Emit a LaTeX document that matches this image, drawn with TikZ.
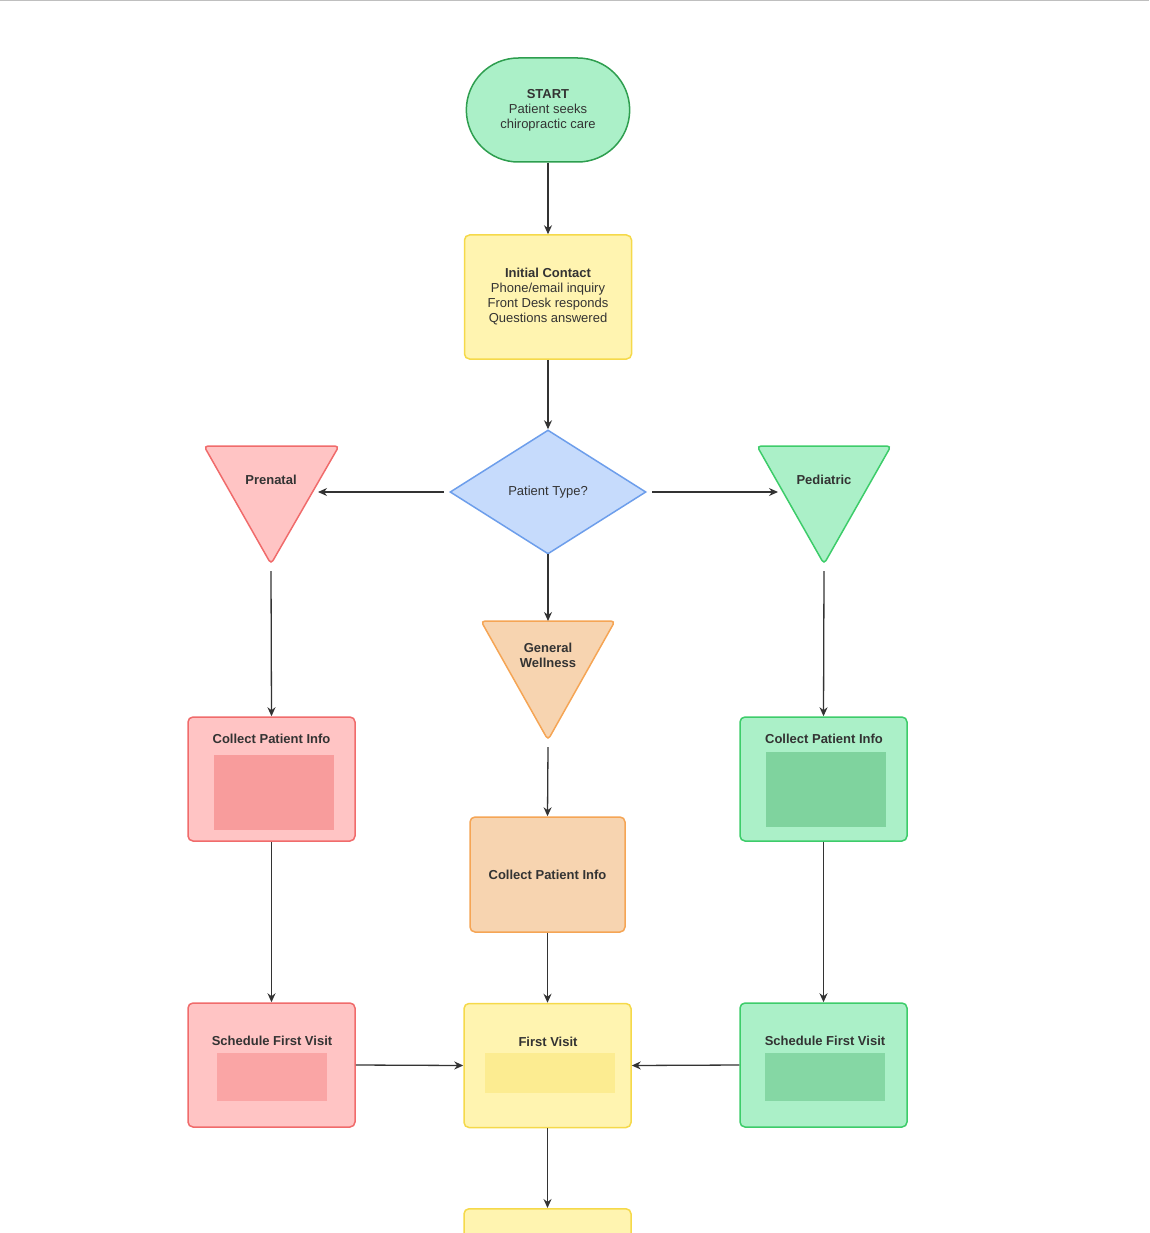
\documentclass[tikz,border=0pt]{standalone}
\usepackage{fontspec}
\setmainfont{Liberation Sans}
\usetikzlibrary{shapes.geometric,shapes.misc,arrows.meta}
\definecolor{gfill}{HTML}{ABF0C8}\definecolor{gdraw}{HTML}{2E9E4F}
\definecolor{g2draw}{HTML}{3DCC6A}
\definecolor{yfill}{HTML}{FFF4B0}\definecolor{ydraw}{HTML}{F5D94A}
\definecolor{bfill}{HTML}{C6DBFC}\definecolor{bdraw}{HTML}{6D9EEB}
\definecolor{rfill}{HTML}{FFC4C4}\definecolor{rdraw}{HTML}{F06B6B}
\definecolor{ofill}{HTML}{F7D4B0}\definecolor{odraw}{HTML}{F5A555}
\definecolor{ink}{HTML}{333333}
\tikzset{
 box/.style={draw,line width=1.5pt,rounded corners=5pt,minimum width=167pt,minimum height=124pt,align=center,font=\fontsize{13}{15}\selectfont,text=ink},
 tri/.style={line width=1.5pt,rounded corners=4pt},
 arr/.style={draw=ink,line width=1.3pt,-{Stealth[length=9pt,width=8pt]}},
 ttl/.style={font=\fontsize{13}{15}\selectfont\bfseries,text=ink,align=center},
 blur/.style={inner sep=0pt,minimum width=120pt,minimum height=75pt}
}
\begin{document}
\begin{tikzpicture}[x=1pt,y=-1pt]
\useasboundingbox (0,0) rectangle (1149,1233);
\clip (0,0) rectangle (1149,1233);
\draw[gray!50] (0,0.5) -- (1149,0.5);
% start
\node[draw=gdraw,fill=gfill,line width=1.5pt,rounded rectangle,minimum width=170pt,minimum height=104pt,align=center,text=ink,font=\fontsize{13}{15}\selectfont] (start) at (548,110) {\textbf{START}\\Patient seeks\\chiropractic care};
\node[box,draw=ydraw,fill=yfill] (ic) at (548,297) {\textbf{Initial Contact}\\Phone/email inquiry\\Front Desk responds\\Questions answered};
\node[diamond,draw=bdraw,fill=bfill,line width=1.5pt,minimum width=196pt,minimum height=124pt,aspect=1.6,inner sep=0pt,text=ink,font=\fontsize{13}{15}\selectfont] (dia) at (548,492) {Patient Type?};
\path (dia.center) ++(-196/2,0) coordinate (dl) (dia.center) ++(196/2,0) coordinate (dr) (dia.center) ++(0,62) coordinate (db);
% triangles
\draw[tri,draw=rdraw,fill=rfill] (204,446) -- (339,446) -- (271,564) -- cycle;
\node[ttl] (pre) at (271,480) {Prenatal};
\coordinate (preR) at (318,492); \coordinate (preB) at (271,571);
\draw[tri,draw=g2draw,fill=gfill] (757,446) -- (891,446) -- (824,564) -- cycle;
\node[ttl] (ped) at (824,480) {Pediatric};
\coordinate (pedL) at (778,492); \coordinate (pedB) at (824,571);
\draw[tri,draw=odraw,fill=ofill] (481,621) -- (615,621) -- (548,740) -- cycle;
\node[ttl] (gw) at (548,655) {General\\Wellness};
\coordinate (gwT) at (548,621); \coordinate (gwB) at (548,747);
% boxes
\node[box,draw=rdraw,fill=rfill] (lc) at (271.5,779) {};
\node[ttl,anchor=north] at (271.5,731) {Collect Patient Info};
\node[blur,fill=rdraw!45!rfill] at (274,792) {};
\node[box,draw=g2draw,fill=gfill] (rc) at (823.5,779) {};
\node[ttl,anchor=north] at (824,731) {Collect Patient Info};
\node[blur,fill=gdraw!35!gfill] at (826,789) {};
\node[box,draw=odraw,fill=ofill,minimum width=155pt,minimum height=115pt] (mc) at (547.5,874.5) {\textbf{Collect Patient Info}};
\node[box,draw=rdraw,fill=rfill] (ls) at (271.5,1065) {};
\node[ttl,anchor=north] at (272,1033) {Schedule First Visit};
\node[blur,fill=rdraw!35!rfill,minimum width=110pt,minimum height=48pt] at (272,1077) {};
\node[box,draw=ydraw,fill=yfill] (fv) at (547.5,1065.5) {};
\node[ttl,anchor=north] at (548,1034) {First Visit};
\node[blur,fill=ydraw!30!yfill,minimum width=130pt,minimum height=40pt] at (550,1073) {};
\node[box,draw=g2draw,fill=gfill] (rs) at (823.5,1065) {};
\node[ttl,anchor=north] at (825,1033) {Schedule First Visit};
\node[blur,fill=gdraw!30!gfill,minimum width=120pt,minimum height=48pt] at (825,1077) {};
\node[box,draw=ydraw,fill=yfill,anchor=north] (nx) at (547.5,1208) {};
% arrows
\draw[arr] (start.south) -- (ic.north);
\draw[arr] (ic.south) -- (dia.north);
\draw[arr] ([xshift=-6pt]dl) -- (preR);
\draw[arr] ([xshift=6pt]dr) -- (pedL);
\draw[arr] (db) -- (gwT);
\draw[arr] (preB) -- (lc.north);
\draw[arr] (pedB) -- (rc.north);
\draw[arr] (gwB) -- (mc.north);
\draw[arr] (lc.south) -- (ls.north);
\draw[arr] (rc.south) -- (rs.north);
\draw[arr] (mc.south) -- (fv.north);
\draw[arr] (ls.east) -- (fv.west);
\draw[arr] (rs.west) -- (fv.east);
\draw[arr] (fv.south) -- (nx.north);
\end{tikzpicture}
\end{document}
